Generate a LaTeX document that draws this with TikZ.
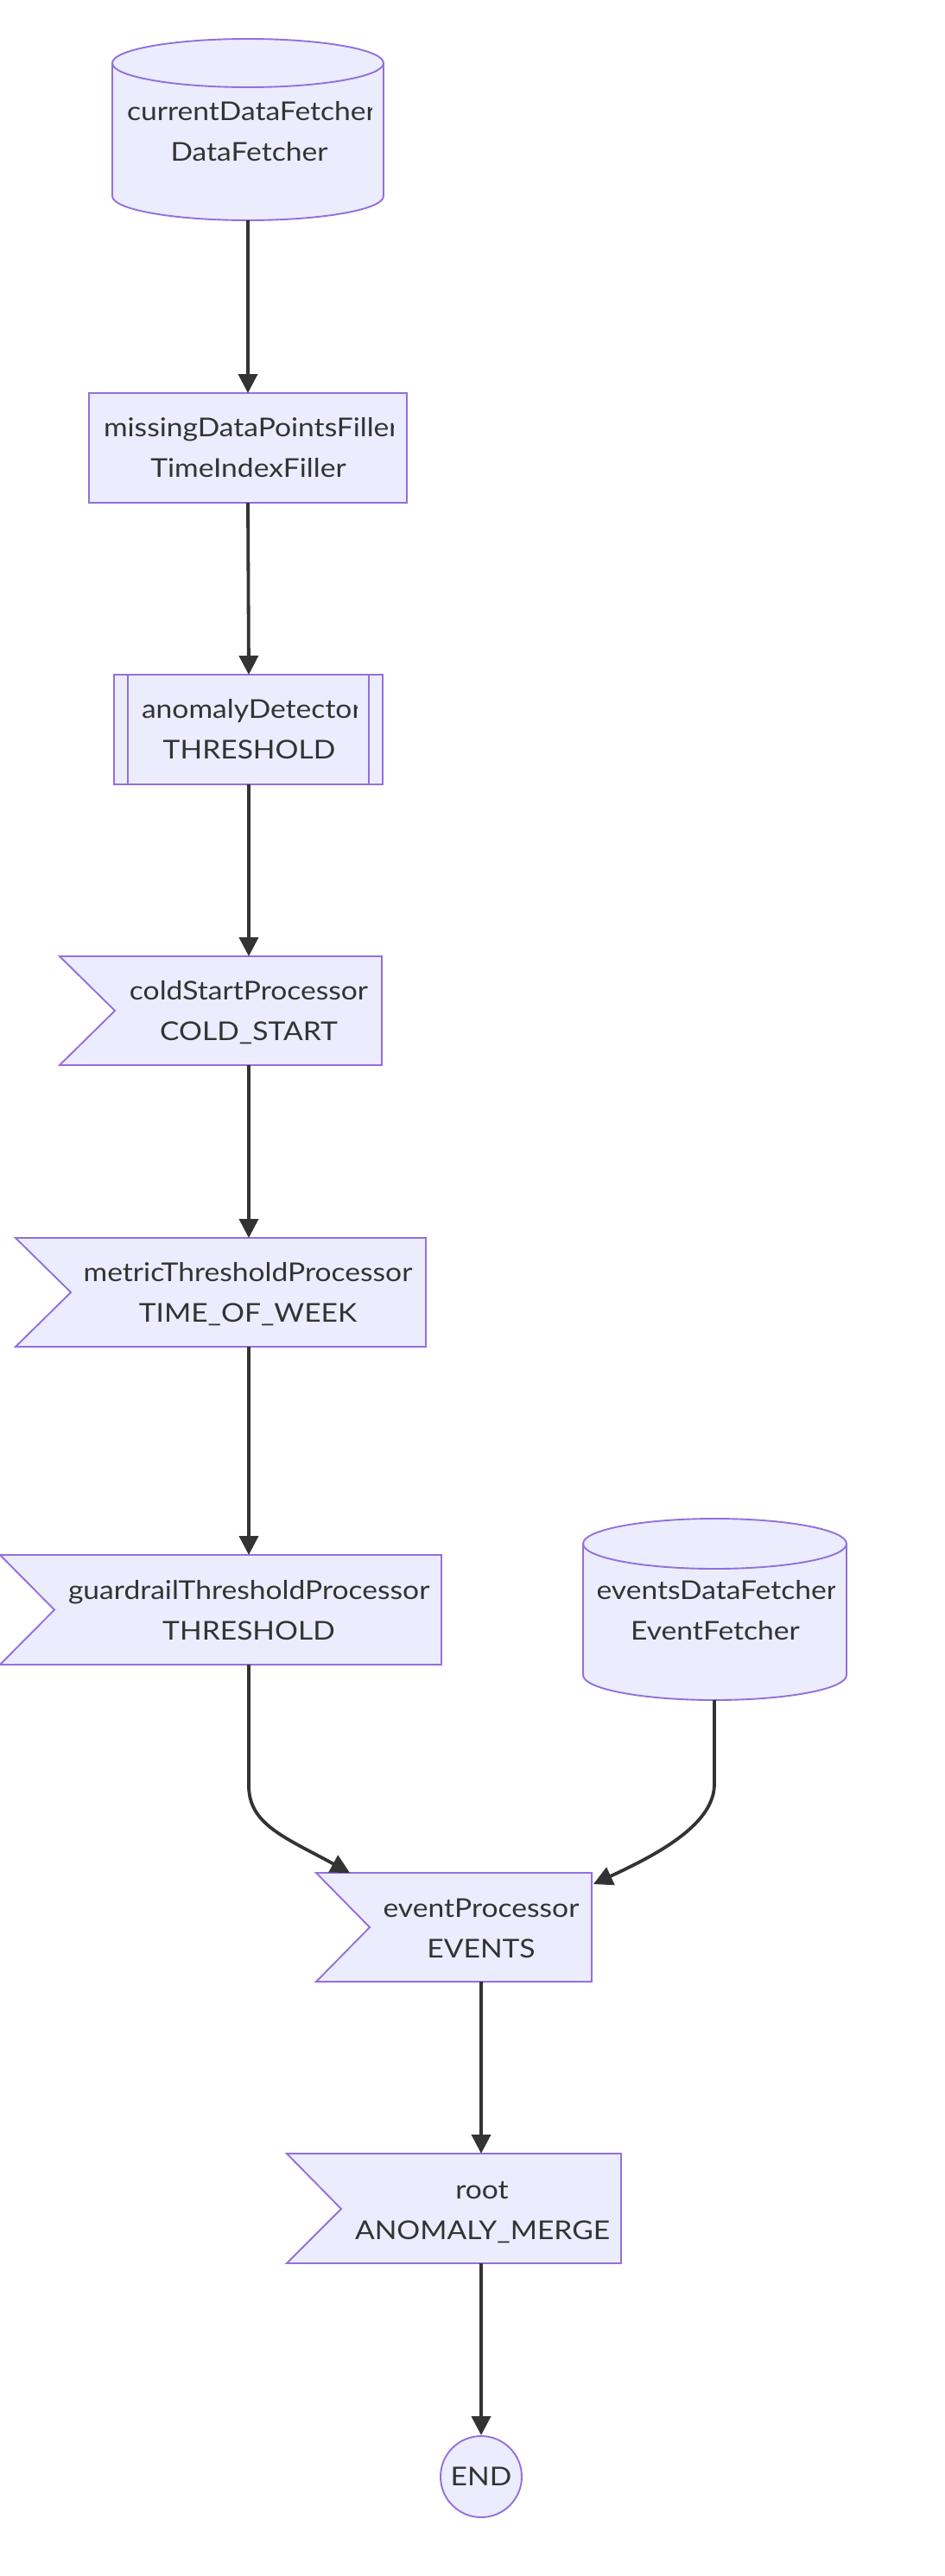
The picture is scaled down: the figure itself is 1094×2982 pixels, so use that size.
\documentclass[tikz,border=0pt]{standalone}
\usepackage{fontspec}
\setmainfont{Lato}[FakeStretch=1.12]
\usetikzlibrary{arrows.meta}
\definecolor{nfill}{HTML}{ECECFF}
\definecolor{nline}{HTML}{9370DB}
\definecolor{ink}{HTML}{333333}
\tikzset{
  shapebox/.style={fill=nfill, draw=nline, line width=1.9pt, line join=miter},
  rim/.style={draw=nline, line width=1.9pt},
  lbl/.style={text=ink, font=\fontsize{30}{47}\selectfont, align=center, inner sep=0pt},
  edge/.style={draw=ink, line width=3.8pt, -{Triangle[length=22pt,width=22pt]}},
}
\begin{document}
\begin{tikzpicture}[x=1pt,y=-1pt]
\useasboundingbox (0,0) rectangle (1094,2982);

% ---- currentDataFetcher (cylinder)
\path[shapebox] (130,73) -- (130,227) arc[start angle=180,end angle=0,x radius=157,y radius=28]
  -- (444,73) arc[start angle=0,end angle=-180,x radius=157,y radius=28] -- cycle;
\draw[rim] (130,73) arc[start angle=180,end angle=0,x radius=157,y radius=28];
\begin{scope}\clip (147,45) rectangle (430,255);
\node[lbl, text width=283pt] (cdf) at (288.5,153.5) {\strut currentDataFetcher\\\strut DataFetcher};
\end{scope}
\coordinate (cdf-s) at (287,255);

% ---- missingDataPointsFiller (rect)
\path[shapebox] (103,455) rectangle (471,582);
\begin{scope}\clip (120,455) rectangle (455,582);
\node[lbl, text width=335pt] (mdf) at (287.5,520) {\strut missingDataPointsFiller\\\strut TimeIndexFiller};
\end{scope}
\coordinate (mdf-n) at (287,455);
\coordinate (mdf-s) at (287,582);

% ---- anomalyDetector (subroutine)
\path[shapebox] (132,781) rectangle (443,908);
\draw[rim] (148,781) -- (148,908) (427,781) -- (427,908);
\begin{scope}\clip (164,781) rectangle (413,908);
\node[lbl, text width=249pt] (ad) at (288.5,846) {\strut anomalyDetector\\\strut THRESHOLD};
\end{scope}
\coordinate (ad-n) at (288,781);
\coordinate (ad-s) at (288,908);

% ---- coldStartProcessor (flag)
\path[shapebox] (69,1107) -- (442,1107) -- (442,1233) -- (69,1233) -- (133,1170) -- cycle;
\node[lbl] (cs) at (288,1171.5) {\strut coldStartProcessor\\\strut COLD\_START};
\coordinate (cs-n) at (288,1107);
\coordinate (cs-s) at (288,1233);

% ---- metricThresholdProcessor (flag)
\path[shapebox] (18,1433) -- (493,1433) -- (493,1559) -- (18,1559) -- (82,1496) -- cycle;
\node[lbl] (mt) at (287,1498) {\strut metricThresholdProcessor\\\strut TIME\_OF\_WEEK};
\coordinate (mt-n) at (288,1433);
\coordinate (mt-s) at (288,1559);

% ---- guardrailThresholdProcessor (flag)
\path[shapebox] (0,1800) -- (511,1800) -- (511,1927) -- (0,1927) -- (63,1863.5) -- cycle;
\begin{scope}\clip (79,1800) rectangle (497,1927);
\node[lbl, text width=418pt] (gt) at (288,1866) {\strut guardrailThresholdProcessor\\\strut THRESHOLD};
\end{scope}
\coordinate (gt-n) at (288,1800);
\coordinate (gt-s) at (288,1927);

% ---- eventsDataFetcher (cylinder)
\path[shapebox] (675,1787) -- (675,1939) arc[start angle=180,end angle=0,x radius=152.5,y radius=29]
  -- (980,1787) arc[start angle=0,end angle=-180,x radius=152.5,y radius=29] -- cycle;
\draw[rim] (675,1787) arc[start angle=180,end angle=0,x radius=152.5,y radius=29];
\begin{scope}\clip (691,1758) rectangle (966,1968);
\node[lbl, text width=275pt] (edf) at (828,1866) {\strut eventsDataFetcher\\\strut EventFetcher};
\end{scope}
\coordinate (edf-s) at (827,1968);

% ---- eventProcessor (flag)
\path[shapebox] (366,2168) -- (685,2168) -- (685,2294) -- (366,2294) -- (428,2231) -- cycle;
\node[lbl] (ep) at (557,2234) {\strut eventProcessor\\\strut EVENTS};
\coordinate (ep-nw) at (405,2168);
\coordinate (ep-ne) at (687,2181);
\coordinate (ep-s) at (557,2294);

% ---- root (flag)
\path[shapebox] (332,2493) -- (719,2493) -- (719,2620) -- (332,2620) -- (395,2557) -- cycle;
\begin{scope}\clip (411,2493) rectangle (705,2620);
\node[lbl, text width=294pt] (root) at (558,2559.5) {\strut root\\\strut ANOMALY\_MERGER};
\end{scope}
\coordinate (root-n) at (557,2493);
\coordinate (root-s) at (557,2620);

% ---- END (circle)
\node[shapebox, circle, minimum size=94pt, inner sep=0pt, text=ink, font=\fontsize{30}{47}\selectfont] (endn) at (557,2867) {END};

% ---- connectors
\draw[edge] (cdf-s) -- (mdf-n);
\draw[edge] (mdf-s) -- (ad-n);
\draw[edge] (ad-s) -- (cs-n);
\draw[edge] (cs-s) -- (mt-n);
\draw[edge] (mt-s) -- (gt-n);
\draw[edge] (gt-s) -- ++(0,140) .. controls +(0,45) and (330,2127) .. (ep-nw);
\draw[edge] (edf-s) -- ++(0,97) .. controls +(0,45) and (767,2144) .. (ep-ne);
\draw[edge] (ep-s) -- (root-n);
\draw[edge] (root-s) -- (endn.north);
\end{tikzpicture}
\end{document}
